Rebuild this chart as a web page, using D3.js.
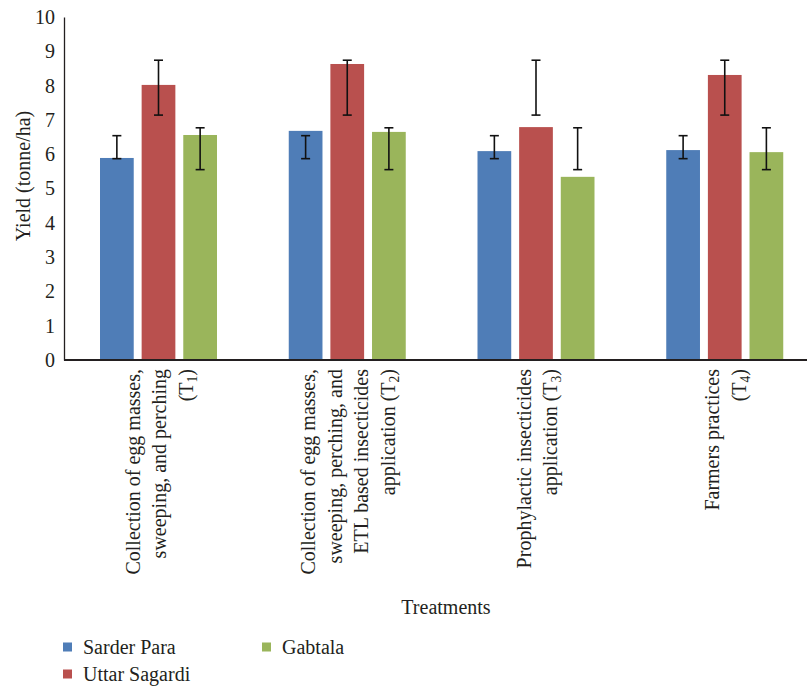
<!DOCTYPE html>
<html>
<head>
<meta charset="utf-8">
<script src="https://cdn.jsdelivr.net/npm/d3@7"></script>
<style>
html,body{margin:0;padding:0;background:#fff;}
svg text{font-family:"Liberation Serif","Tinos","Times New Roman","DejaVu Serif Condensed","DejaVu Serif",serif;fill:#231f20;}
</style>
</head>
<body>
<svg id="chart" width="807" height="686"></svg>
<script>
const categories = ["T1","T2","T3","T4"];
const categoryLabels = [
  [["Collection of egg masses,"],["sweeping, and perching"],["(T","1",")"]],
  [["Collection of egg masses,"],["sweeping, perching, and"],["ETL based insecticides"],["application (T","2",")"]],
  [["Prophylactic insecticides"],["application (T","3",")"]],
  [["Farmers practices"],["(T","4",")"]]
];
const seriesNames = ["Sarder Para","Uttar Sagardi","Gabtala"];
const seriesColors = ["#4F7DB7","#B9504E","#9AB55B"];
const sarderPara   = [5.89, 6.68, 6.09, 6.12];
const uttarSagardi = [8.02, 8.63, 6.79, 8.31];
const gabtala      = [6.56, 6.65, 5.34, 6.06];
const errHigh = { "Sarder Para":[6.54,6.54,6.54,6.54], "Uttar Sagardi":[8.74,8.74,8.74,8.74], "Gabtala":[6.77,6.77,6.77,6.77] };
const errLow  = { "Sarder Para":[5.87,5.87,5.87,5.87], "Uttar Sagardi":[7.14,7.14,7.14,7.14], "Gabtala":[5.55,5.55,5.55,5.55] };
const yTicks = [0,1,2,3,4,5,6,7,8,9,10];

const seriesValues = [sarderPara, uttarSagardi, gabtala];
const data = [];
categories.forEach((c,i)=>seriesNames.forEach((s,j)=>{
  data.push({cat:c, series:s, value:seriesValues[j][i], hi:errHigh[s][i], lo:errLow[s][i], color:seriesColors[j]});
}));

const svg = d3.select("#chart");
const mLeft = 64, mRight = 819, mTop = 17, mBottom = 360;

// fit font size so the reference line width is matched by whichever serif font is installed
const probe = svg.append("text").style("font-size","18px").text("Collection of egg masses,");
const measured = probe.node().getComputedTextLength() || 200;
probe.remove();
const FS = Math.max(14, Math.min(20, 18 * 212 / measured));

const x0 = d3.scaleBand().domain(categories).range([mLeft, mRight]);
const x1 = d3.scaleBand().domain(seriesNames).range([36, 153]).paddingInner(0.19).paddingOuter(0);
const y = d3.scaleLinear().domain([0,10]).range([mBottom, mTop]);

// bars
svg.append("g").selectAll("rect").data(data).join("rect")
  .attr("x", d=>x0(d.cat)+x1(d.series))
  .attr("width", x1.bandwidth())
  .attr("y", d=>y(d.value))
  .attr("height", d=>y(0)-y(d.value))
  .attr("fill", d=>d.color);

// error bars
const eg = svg.append("g").attr("stroke","#111").attr("stroke-width",1.6);
data.forEach(d=>{
  const cx = x0(d.cat)+x1(d.series)+x1.bandwidth()/2;
  eg.append("line").attr("x1",cx).attr("x2",cx).attr("y1",y(d.hi)).attr("y2",y(d.lo));
  eg.append("line").attr("x1",cx-4.5).attr("x2",cx+4.5).attr("y1",y(d.hi)).attr("y2",y(d.hi));
  eg.append("line").attr("x1",cx-4.5).attr("x2",cx+4.5).attr("y1",y(d.lo)).attr("y2",y(d.lo));
});

// y axis
const yAxis = d3.axisLeft(y).tickValues(yTicks).tickSize(0).tickPadding(9).tickFormat(d3.format("d"));
const ga = svg.append("g").attr("transform",`translate(${mLeft},0)`).call(yAxis);
ga.attr("font-family",null).attr("font-size",null);
ga.select(".domain").attr("stroke","#231f20").attr("stroke-width",1.3);
ga.selectAll("text").style("font-size",FS+"px").attr("fill","#231f20");

// x axis line
svg.append("line").attr("x1",mLeft).attr("x2",807).attr("y1",mBottom).attr("y2",mBottom)
  .attr("stroke","#231f20").attr("stroke-width",1.8);

// category labels
const lineGap = 26.5;
categories.forEach((c,i)=>{
  const lines = categoryLabels[i];
  const cx = x0(c)+x0.bandwidth()/2 + 2;
  const n = lines.length;
  lines.forEach((parts,k)=>{
    const lx = cx - (n-1)*lineGap/2 + k*lineGap + 6;
    const t = svg.append("text")
      .attr("transform",`translate(${lx},369) rotate(-90)`)
      .attr("text-anchor","end")
      .style("font-size",FS+"px");
    t.append("tspan").text(parts[0]);
    if (parts.length>1){
      t.append("tspan").attr("dy",4).style("font-size",(FS*0.68)+"px").text(parts[1]);
      t.append("tspan").attr("dy",-4).text(parts[2]);
    }
  });
});

// axis titles
svg.append("text").attr("transform","translate(30,176) rotate(-90)").attr("text-anchor","middle")
  .style("font-size",FS+"px").text("Yield (tonne/ha)");
svg.append("text").attr("x",446).attr("y",614).attr("text-anchor","middle")
  .style("font-size",FS+"px").text("Treatments");

// legend
const legPos = [[63,647],[63,674],[262,647]];
seriesNames.forEach((s,j)=>{
  const g = svg.append("g").attr("transform",`translate(${legPos[j][0]},${legPos[j][1]})`);
  g.append("rect").attr("x",0).attr("y",-4.5).attr("width",9).attr("height",9).attr("fill",seriesColors[j]);
  g.append("text").attr("x",20).attr("y",6.5).style("font-size",FS+"px").text(s);
});
</script>
</body>
</html>
